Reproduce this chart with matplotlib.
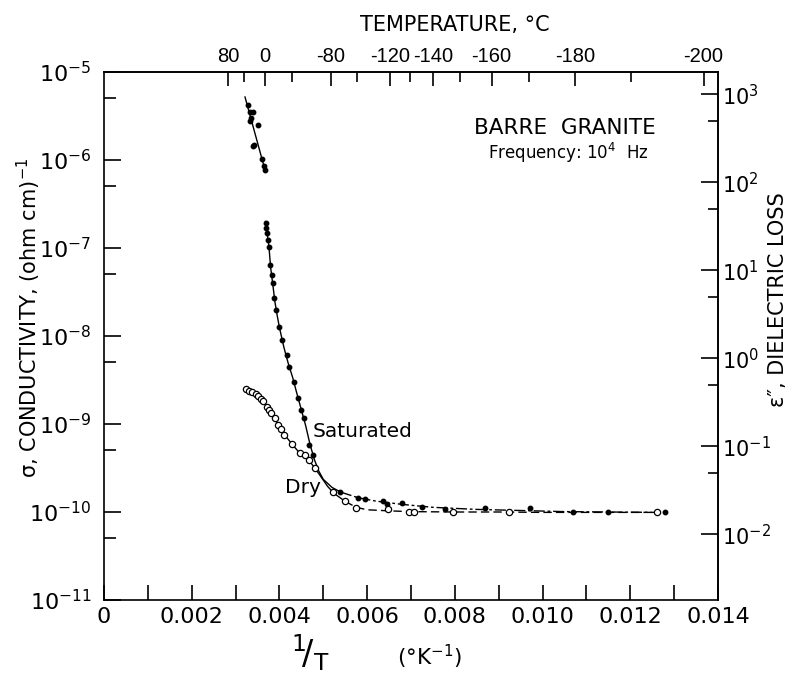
import numpy as np
import matplotlib
matplotlib.use("Agg")
import matplotlib.pyplot as plt
from matplotlib.ticker import LogFormatterMathtext, NullFormatter, FixedLocator

plt.rcParams['font.family'] = ['DejaVu Sans']
plt.rcParams['mathtext.default'] = 'regular'

# --- data (1/T in 1/K, sigma in (ohm cm)^-1) ---
# saturated sample, above 0 C
sat_hot_x = [3.276, 3.329, 3.390, 3.345, 3.329, 3.504, 3.420, 3.404, 3.596, 3.655, 3.671]
sat_hot_sigma = [4.2e-6, 3.5e-6, 3.5e-6, 3.0e-6, 2.8e-6, 2.5e-6, 1.5e-6, 1.44e-6, 1.03e-6, 8.5e-7, 7.7e-7]
sat_hot_line_x = [3.215, 3.671]
sat_hot_line_sigma = [5.2e-6, 7.7e-7]

# saturated sample, below 0 C
sat_x = [3.687, 3.694, 3.709, 3.746, 3.762, 3.785, 3.824, 3.860, 3.883, 3.915,
         3.990, 4.065, 4.166, 4.218, 4.339, 4.430, 4.485, 4.567, 4.674, 4.758,
         5.381, 5.784, 5.951, 6.368, 6.446, 6.788, 7.244, 7.780, 8.690, 9.710,
         10.70, 11.50, 12.79]
sat_sigma = [1.94e-7, 1.67e-7, 1.49e-7, 1.23e-7, 1.03e-7, 6.4e-8, 4.9e-8, 3.97e-8, 2.68e-8, 1.97e-8,
             1.28e-8, 9.0e-9, 6.1e-9, 4.5e-9, 3.03e-9, 1.96e-9, 1.44e-9, 1.16e-9, 5.8e-10, 4.45e-10,
             1.70e-10, 1.45e-10, 1.39e-10, 1.34e-10, 1.22e-10, 1.26e-10, 1.15e-10, 1.08e-10, 1.10e-10, 1.10e-10,
             0.99e-10, 1.0e-10, 0.99e-10]
sat_curve_x = [3.68, 3.72, 3.76, 3.80, 3.85, 3.90, 3.95, 4.00, 4.10, 4.20, 4.30, 4.40,
               4.50, 4.60, 4.70, 4.80, 4.90, 5.00, 5.20, 5.40]
sat_curve_sigma = [2.0e-7, 1.45e-7, 1.05e-7, 6.0e-8, 3.8e-8, 2.4e-8, 1.7e-8, 1.25e-8, 7.5e-9, 4.9e-9,
                   3.4e-9, 2.2e-9, 1.45e-9, 9.5e-10, 5.8e-10, 3.9e-10, 2.9e-10, 2.35e-10, 1.9e-10, 1.68e-10]
sat_tail_x = [5.40, 5.80, 6.20, 6.80, 7.50, 8.50, 9.50, 10.5, 11.5, 12.6]
sat_tail_sigma = [1.68e-10, 1.45e-10, 1.33e-10, 1.22e-10, 1.13e-10, 1.07e-10, 1.04e-10, 1.01e-10, 1.0e-10, 0.99e-10]

# dry sample
dry_x = [3.238, 3.306, 3.381, 3.459, 3.518, 3.580, 3.632, 3.723, 3.762, 3.808,
         3.899, 3.974, 4.036, 4.111, 4.280, 4.469, 4.584, 4.674, 4.811, 5.228,
         5.495, 5.739, 6.482, 6.961, 7.075, 7.951, 9.234, 12.60]
dry_sigma = [2.50e-9, 2.39e-9, 2.29e-9, 2.19e-9, 2.10e-9, 1.92e-9, 1.82e-9, 1.57e-9, 1.44e-9, 1.32e-9,
             1.16e-9, 9.7e-10, 8.8e-10, 7.5e-10, 6.0e-10, 4.65e-10, 4.45e-10, 3.9e-10, 3.19e-10, 1.67e-10,
             1.34e-10, 1.12e-10, 1.07e-10, 1.01e-10, 1.01e-10, 1.00e-10, 1.01e-10, 0.99e-10]
dry_curve_x = [3.24, 3.40, 3.55, 3.65, 3.75, 3.85, 3.95, 4.05, 4.15, 4.30, 4.45, 4.60,
               4.70, 4.80, 4.95, 5.10, 5.25, 5.50]
dry_curve_sigma = [2.5e-9, 2.28e-9, 2.0e-9, 1.78e-9, 1.48e-9, 1.25e-9, 1.03e-9, 8.6e-10, 7.2e-10, 5.8e-10,
                   4.75e-10, 4.15e-10, 3.7e-10, 3.2e-10, 2.5e-10, 1.95e-10, 1.62e-10, 1.32e-10]
dry_tail_x = [5.50, 5.75, 6.0, 6.5, 7.0, 8.0, 9.0, 10.0, 11.0, 12.5]
dry_tail_sigma = [1.32e-10, 1.13e-10, 1.06e-10, 1.03e-10, 1.01e-10, 1.0e-10, 1.0e-10, 0.99e-10, 0.99e-10, 0.99e-10]

# axis ticks
temp_labeled = [80, 0, -80, -120, -140, -160, -180, -200]
temp_minor = [40, -40, -100, -130, -150, -170, -190]
x_ticks = [0, 0.002, 0.004, 0.006, 0.008, 0.010, 0.012, 0.014]
x_tick_labels = ['0', '0.002', '0.004', '0.006', '0.008', '0.010', '0.012', '0.014']
sigma_decades = [-11, -10, -9, -8, -7, -6, -5]
loss_decades = [-2, -1, 0, 1, 2, 3]

FREQ = 1e4
EPS0 = 8.854e-12
K = 100.0 / (2 * np.pi * FREQ * EPS0)  # sigma (ohm cm)^-1 -> eps''


def kx(v):
    return np.array(v) * 1e-3


fig = plt.figure(figsize=(7.96, 6.79), dpi=100)
ax = fig.add_axes([104 / 796, 1 - 600 / 679, 614 / 796, 528 / 679])

# curves
ax.plot(kx(sat_hot_line_x), sat_hot_line_sigma, color='black', lw=1.0)
ax.plot(kx(sat_curve_x), sat_curve_sigma, color='black', lw=1.0)
ax.plot(kx(sat_tail_x), sat_tail_sigma, color='black', lw=1.0, dashes=(8, 2, 2, 2))
ax.plot(kx(dry_curve_x), dry_curve_sigma, color='black', lw=1.0)
ax.plot(kx(dry_tail_x), dry_tail_sigma, color='black', lw=1.0, dashes=(6, 3))

# points
ax.plot(kx(sat_hot_x), sat_hot_sigma, 'o', color='black', ms=3.2, ls='none')
ax.plot(kx(sat_x), sat_sigma, 'o', color='black', ms=3.2, ls='none')
ax.plot(kx(dry_x), dry_sigma, 'o', mfc='white', mec='black', mew=0.9, ms=4.5, ls='none')

ax.set_yscale('log')
ax.set_xlim(0, 0.014)
ax.set_ylim(1e-11, 1e-5)

ax.set_xticks(x_ticks, x_tick_labels)
ax.set_xticks(np.arange(0.001, 0.014, 0.002), minor=True)
ax.yaxis.set_major_locator(FixedLocator([10.0 ** d for d in sigma_decades]))
ax.yaxis.set_minor_locator(FixedLocator([5 * 10.0 ** d for d in sigma_decades[:-1]]))
ax.yaxis.set_minor_formatter(NullFormatter())
ax.yaxis.set_major_formatter(LogFormatterMathtext())

ax.tick_params(axis='x', which='both', direction='in', length=11, width=1.2, labelsize=16, pad=5)
ax.tick_params(axis='y', which='major', direction='in', length=12, width=1.2, labelsize=16, pad=9)
ax.tick_params(axis='y', which='minor', direction='in', length=8.5, width=1.2)
for s in ax.spines.values():
    s.set_linewidth(1.2)

# right axis: dielectric loss
rax = ax.secondary_yaxis('right', functions=(lambda s: s * K, lambda e: e / K))
rax.yaxis.set_major_locator(FixedLocator([10.0 ** d for d in loss_decades]))
rax.yaxis.set_minor_locator(FixedLocator([5 * 10.0 ** d for d in loss_decades]))
rax.yaxis.set_minor_formatter(NullFormatter())
rax.yaxis.set_major_formatter(LogFormatterMathtext())
rax.tick_params(which='major', direction='in', length=12, width=1.2, labelsize=15, pad=3)
rax.tick_params(which='minor', direction='in', length=7.5, width=1.2)
rax.spines['right'].set_linewidth(1.2)

# top axis: temperature (narrower digits so -120 / -140 don't collide)
tax = ax.secondary_xaxis('top')
tax.set_xticks([1 / (t + 273.15) for t in temp_labeled], [str(t) for t in temp_labeled])
tax.xaxis.set_minor_locator(FixedLocator([1 / (t + 273.15) for t in temp_minor]))
tax.tick_params(which='major', direction='in', length=10, width=1.2, labelsize=14.5, pad=4)
tax.tick_params(which='minor', direction='in', length=7, width=1.2)
tax.spines['top'].set_linewidth(1.2)
for lbl in tax.get_xticklabels():
    lbl.set_fontfamily(['Liberation Sans', 'DejaVu Sans'])

# labels
fig.text(0.572, 0.963, 'TEMPERATURE, °C', ha='center', va='center', fontsize=15)
fig.text(0.036, 0.532, r'σ, CONDUCTIVITY, (ohm cm)$^{-1}$', rotation=90,
         ha='center', va='center', fontsize=15)
fig.text(0.977, 0.558, 'ε″, DIELECTRIC LOSS', rotation=90, ha='center', va='center', fontsize=15)
fig.text(0.39, 0.038, r'$^{1}\!/_{T}$', ha='center', va='center', fontsize=24)
fig.text(0.54, 0.032, r'(°K$^{-1}$)', ha='center', va='center', fontsize=15.5)

ax.text(0.751, 0.894, 'BARRE  GRANITE', transform=ax.transAxes, ha='center', va='center', fontsize=15.5)
ax.text(0.756, 0.847, r'Frequency: 10$^{4}$  Hz', transform=ax.transAxes, ha='center', va='center', fontsize=12)
ax.text(0.340, 0.320, 'Saturated', transform=ax.transAxes, ha='left', va='center', fontsize=14.5)
ax.text(0.295, 0.214, 'Dry', transform=ax.transAxes, ha='left', va='center', fontsize=14.5)

fig.savefig('out.png', dpi=100, facecolor='white')
